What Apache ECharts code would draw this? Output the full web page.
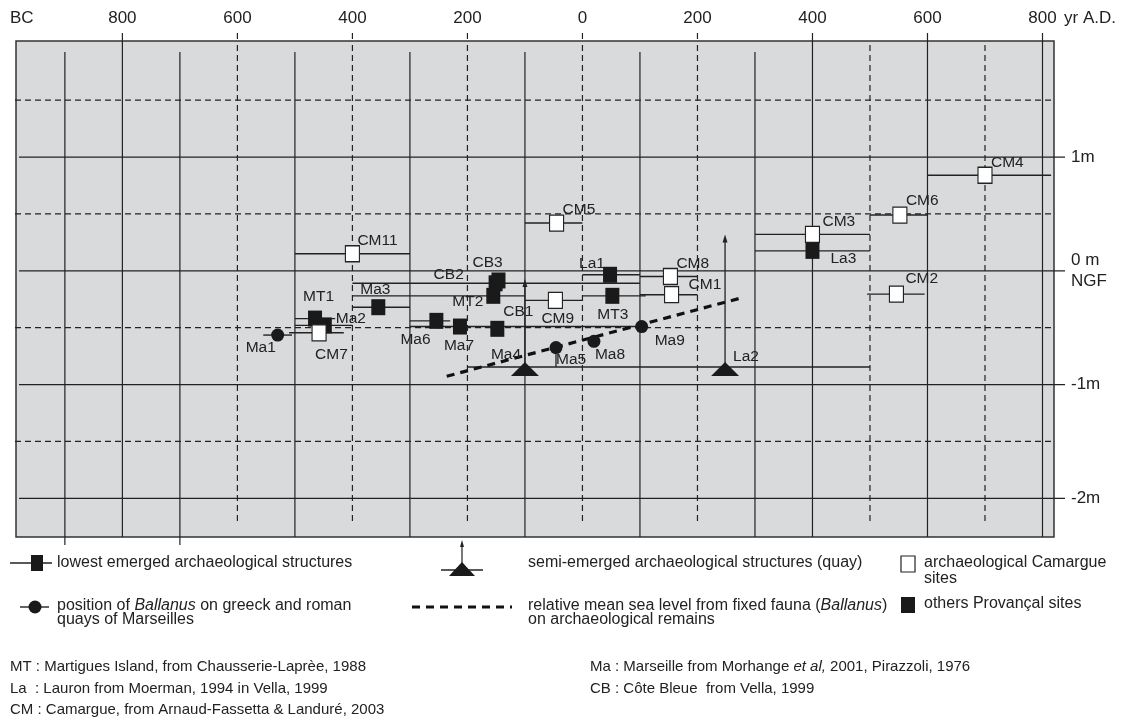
<!DOCTYPE html>
<html>
<head>
<meta charset="utf-8">
<script src="https://cdn.jsdelivr.net/npm/echarts@6/dist/echarts.min.js"></script>
<style>
html,body{margin:0;padding:0;background:#fff;}
#chart{width:1130px;height:725px;}
</style>
</head>
<body>
<div id="chart"></div>
<script>
// Years: negative = BC, positive = AD. Levels in metres relative to NGF.
const yearTicks = [-800, -600, -400, -200, 0, 200, 400, 600, 800];
const levelTicks = [1, 0, -1, -2];
const solidYearLines = [-900, -800, -700, -500, -300, -100, 100, 300, 400, 600, 800];
const dashedYearLines = [-600, -400, -200, 0, 200, 500, 700];
const solidLevelLines = [1, 0, -1, -2];
const dashedLevelLines = [1.5, 0.5, -0.5, -1.5];
const linesBelowFrame = [-900, -700];

// Provençal sites (black squares): [name, year, level, age from, age to]
const provencalSites = [
  ['MT1', -465, -0.42, -500, -430],
  ['Ma2', -448, -0.48, -500, -400],
  ['Ma3', -355, -0.32, -400, -300],
  ['Ma6', -254, -0.44, -300, -230],
  ['Ma7', -213, -0.49, -300, 100],
  ['CB2', -151, -0.11, -400, 100],
  ['CB3', -146, -0.085, null, null],
  ['MT2', -155, -0.22, -400, -100],
  ['CB1', -148, -0.51, null, null],
  ['La1', 48, -0.035, 0, 100],
  ['MT3', 52, -0.22, 0, 110],
  ['La3', 400, 0.175, 300, 500]
];

// Camargue sites (white squares): [name, year, level, age from, age to]
const camargueSites = [
  ['CM11', -400, 0.15, -500, -300],
  ['CM7', -458, -0.545, -510, -415],
  ['CM9', -47, -0.26, -100, 0],
  ['CM5', -45, 0.42, -100, 0],
  ['CM8', 153, -0.05, 100, 200],
  ['CM1', 155, -0.21, 100, 200],
  ['CM3', 400, 0.32, 300, 500],
  ['CM2', 546, -0.205, 495, 595],
  ['CM6', 552, 0.49, 500, 600],
  ['CM4', 700, 0.84, 600, 815]
];

// Ballanus on Marseilles quays (dots): [name, year, level, age from, age to]
const ballanusPoints = [
  ['Ma1', -530, -0.565, -555, -505],
  ['Ma5', -46, -0.675, null, null],
  ['Ma8', 20, -0.62, null, null],
  ['Ma9', 103, -0.49, null, null]
];
// vertical link: [name, year, level from, level to]
const ballanusStems = [['Ma5', -46, -0.675, -0.845]];

// Semi-emerged quays (triangles): [name, year, level, age from, age to, upper bound]
const quays = [
  ['Ma4', -100, -0.845, -200, 0, -0.08],
  ['La2', 248, -0.845, 0, 500, 0.31]
];

// Relative mean sea level trend from fixed fauna
const seaLevelTrend = [[-236, -0.927], [272, -0.244]];

const INK = '#222';
const FONT = '"Liberation Sans", Arial, Helvetica, sans-serif';

// label placement: [dx to text start, dy to text middle] from the marker centre
const labelOffset = {
  MT1: [-12, -22], Ma2: [11, -7], Ma3: [-18, -17], Ma6: [-36, 19], Ma7: [-16, 19],
  CB2: [-62, -9], CB3: [-26, -18], MT2: [-41, 6], CB1: [6, -17], La1: [-31, -11],
  MT3: [-15, 19], La3: [18, 8],
  CM11: [5, -13], CM7: [-4, 22], CM9: [-14, 18], CM5: [6, -13], CM8: [6, -13],
  CM1: [17, -10], CM3: [10, -13], CM2: [9, -15], CM6: [6, -14], CM4: [6, -13],
  Ma1: [-32, 13], Ma5: [0, 12], Ma8: [1, 13], Ma9: [13, 14],
  Ma4: [-34, -14], La2: [8, -12]
};

// grid lines; labelled years poke above the frame and labelled levels past its right edge
function gridLineSeries(values, vertical, dashed) {
  return {
    type: 'custom', coordinateSystem: 'cartesian2d', silent: true, clip: false, z: 1,
    data: values.map(v => vertical ? [v, 0] : [0, v]),
    renderItem(params, api) {
      const cs = params.coordSys;
      const style = { stroke: INK, lineWidth: 1.2, lineDash: dashed ? [6, 4] : null };
      if (vertical) {
        const v = api.value(0);
        const x = api.coord([v, 0])[0];
        const labelled = yearTicks.includes(v);
        let y1 = cs.y, y2 = cs.y + cs.height;
        if (dashed) { y1 = cs.y + 4; y2 = cs.y + cs.height - 12; }
        else if (!labelled) { y1 = cs.y + 11; }
        if (linesBelowFrame.includes(v)) y2 = cs.y + cs.height + 8;
        const parts = [{ type: 'line', shape: { x1: x, y1: y1, x2: x, y2: y2 }, style }];
        if (labelled) {
          parts.push({ type: 'line', shape: { x1: x, y1: cs.y - 8, x2: x, y2: cs.y - (dashed ? 2 : 0) },
            style: { stroke: INK, lineWidth: 1.2 } });
        }
        return { type: 'group', children: parts };
      }
      const v = api.value(1);
      const y = api.coord([0, v])[1];
      const x1 = dashed ? cs.x - 1 : cs.x + 3;
      const x2 = levelTicks.includes(v) && !dashed ? cs.x + cs.width + 11 : cs.x + cs.width;
      return { type: 'line', shape: { x1: x1, y1: y, x2: x2, y2: y }, style };
    }
  };
}

function rangeSeries(rows) {
  return {
    type: 'custom', coordinateSystem: 'cartesian2d', silent: true, clip: false, z: 3,
    data: rows.filter(r => r[3] != null).map(r => [r[3], r[2], r[4]]),
    renderItem(params, api) {
      const a = api.coord([api.value(0), api.value(1)]);
      const b = api.coord([api.value(2), api.value(1)]);
      return { type: 'line', shape: { x1: a[0], y1: a[1], x2: b[0], y2: b[1] },
        style: { stroke: INK, lineWidth: 1.4 } };
    }
  };
}

function stemSeries(rows) {
  return {
    type: 'custom', coordinateSystem: 'cartesian2d', silent: true, clip: false, z: 3,
    data: rows.map(r => [r[1], r[2], r[3]]),
    renderItem(params, api) {
      const a = api.coord([api.value(0), api.value(1)]);
      const b = api.coord([api.value(0), api.value(2)]);
      return { type: 'line', shape: { x1: a[0], y1: a[1], x2: b[0], y2: b[1] },
        style: { stroke: INK, lineWidth: 1.3 } };
    }
  };
}

function arrowSeries(rows) {
  return {
    type: 'custom', coordinateSystem: 'cartesian2d', silent: true, clip: false, z: 3,
    data: rows.map(r => [r[1], r[2], r[5]]),
    renderItem(params, api) {
      const a = api.coord([api.value(0), api.value(1)]);
      const b = api.coord([api.value(0), api.value(2)]);
      return { type: 'group', children: [
        { type: 'line', shape: { x1: a[0], y1: a[1], x2: b[0], y2: b[1] + 4 },
          style: { stroke: INK, lineWidth: 1.3 } },
        { type: 'polygon', shape: { points: [[b[0], b[1] - 1], [b[0] - 2.5, b[1] + 7], [b[0] + 2.5, b[1] + 7]] },
          style: { fill: INK } }
      ] };
    }
  };
}

function markerSeries(rows, symbol, size, itemStyle, symbolOffset) {
  return {
    type: 'scatter', symbol: symbol, symbolSize: size, symbolOffset: symbolOffset || [0, 0],
    silent: true, z: 5, itemStyle: Object.assign({ opacity: 1 }, itemStyle),
    data: rows.map(r => ({ name: r[0], value: [r[1], r[2]], label: { offset: labelOffset[r[0]] } })),
    label: {
      show: true, position: 'inside', align: 'left', verticalAlign: 'middle', formatter: '{b}',
      fontSize: 15.5, color: INK, fontFamily: FONT, textBorderWidth: 0
    }
  };
}

const chart = echarts.init(document.getElementById('chart'));

const LEGEND_FONT = '16px ' + FONT;
const txt = (text, x, y, extra) => ({
  type: 'text', x: x, y: y, silent: true,
  style: Object.assign({ text: text, fill: INK, font: '15px ' + FONT, align: 'left', verticalAlign: 'middle' }, extra || {})
});
const italic = (size) => ({ i: { fontStyle: 'italic', fontSize: size, fontFamily: FONT, fill: INK } });

chart.setOption({
  animation: false,
  backgroundColor: '#fff',
  grid: { left: 16, right: 76, top: 41, bottom: 188, show: true,
    backgroundColor: '#d9dadc', borderColor: '#333', borderWidth: 1.5 },
  xAxis: {
    type: 'value', position: 'top', min: -985, max: 820,
    axisLine: { show: false }, splitLine: { show: false }, axisTick: { show: false },
    axisLabel: { customValues: yearTicks, formatter: v => String(Math.abs(v)),
      fontSize: 17, color: INK, margin: 14, fontFamily: FONT }
  },
  yAxis: {
    type: 'value', position: 'right', min: -2.34, max: 2.02,
    axisLine: { show: false }, splitLine: { show: false }, axisTick: { show: false },
    axisLabel: { customValues: levelTicks, margin: 17, fontSize: 17, color: INK, fontFamily: FONT, lineHeight: 21,
      formatter: v => v === 0 ? '0 m\nNGF' : v + 'm' }
  },
  series: [
    gridLineSeries(solidYearLines, true, false),
    gridLineSeries(dashedYearLines, true, true),
    gridLineSeries(solidLevelLines, false, false),
    gridLineSeries(dashedLevelLines, false, true),
    rangeSeries(provencalSites),
    rangeSeries(camargueSites),
    rangeSeries(ballanusPoints),
    rangeSeries(quays),
    stemSeries(ballanusStems),
    arrowSeries(quays),
    {
      type: 'line', data: seaLevelTrend, symbol: 'none', silent: true, z: 4,
      lineStyle: { color: '#111', width: 3.2, type: [8, 6] }
    },
    markerSeries(provencalSites, 'rect', [14, 16], { color: '#1a1a1a' }),
    markerSeries(camargueSites, 'rect', [14, 16], { color: '#fff', borderColor: '#222', borderWidth: 1.2 }),
    markerSeries(ballanusPoints, 'circle', 13, { color: '#1a1a1a' }),
    markerSeries(quays, 'triangle', [28, 14], { color: '#1a1a1a' }, [0, 2])
  ],
  graphic: [
    txt('BC', 10, 18, { font: '17px ' + FONT }),
    txt('yr A.D.', 1064, 18, { font: '17px ' + FONT }),

    // legend row 1
    { type: 'line', silent: true, shape: { x1: 10, y1: 563, x2: 52, y2: 563 }, style: { stroke: INK, lineWidth: 1.4 } },
    { type: 'rect', silent: true, shape: { x: 31, y: 555, width: 12, height: 16 }, style: { fill: '#1a1a1a' } },
    txt('lowest emerged archaeological structures', 57, 563, { font: LEGEND_FONT }),
    { type: 'line', silent: true, shape: { x1: 462, y1: 563, x2: 462, y2: 545 }, style: { stroke: INK, lineWidth: 1.2 } },
    { type: 'polygon', silent: true, shape: { points: [[462, 540], [460, 547], [464, 547]] }, style: { fill: INK } },
    { type: 'line', silent: true, shape: { x1: 441, y1: 570, x2: 483, y2: 570 }, style: { stroke: INK, lineWidth: 1.3 } },
    { type: 'polygon', silent: true, shape: { points: [[462, 562], [449, 576], [475, 576]] }, style: { fill: '#1a1a1a' } },
    txt('semi-emerged archaeological structures (quay)', 528, 563, { font: LEGEND_FONT }),
    { type: 'rect', silent: true, shape: { x: 901, y: 556, width: 14, height: 16 }, style: { fill: '#fff', stroke: '#222', lineWidth: 1.2 } },
    txt('archaeological Camargue\nsites', 924, 571, { font: LEGEND_FONT, lineHeight: 16 }),

    // legend row 2
    { type: 'line', silent: true, shape: { x1: 20, y1: 607, x2: 49, y2: 607 }, style: { stroke: INK, lineWidth: 1.4 } },
    { type: 'circle', silent: true, shape: { cx: 35, cy: 607, r: 6.5 }, style: { fill: '#1a1a1a' } },
    txt('position of {i|Ballanus} on greeck and roman\nquays of Marseilles', 57, 613,
      { font: LEGEND_FONT, lineHeight: 14, rich: italic(16) }),
    { type: 'line', silent: true, shape: { x1: 412, y1: 607, x2: 512, y2: 607 }, style: { stroke: '#111', lineWidth: 3, lineDash: [8, 6] } },
    txt('relative mean sea level from fixed fauna ({i|Ballanus})\non archaeological remains', 528, 613,
      { font: LEGEND_FONT, lineHeight: 14, rich: italic(16) }),
    { type: 'rect', silent: true, shape: { x: 901, y: 597, width: 14, height: 16 }, style: { fill: '#1a1a1a' } },
    txt('others Provançal sites', 924, 604, { font: LEGEND_FONT }),

    // sources
    txt('MT : Martigues Island, from Chausserie-Laprèe, 1988', 10, 667),
    txt('La  : Lauron from Moerman, 1994 in Vella, 1999', 10, 689),
    txt('CM : Camargue, from Arnaud-Fassetta & Landuré, 2003', 10, 710),
    txt('Ma : Marseille from Morhange {i|et al,} 2001, Pirazzoli, 1976', 590, 667, { rich: italic(15) }),
    txt('CB : Côte Bleue  from Vella, 1999', 590, 689)
  ]
});
</script>
</body>
</html>
